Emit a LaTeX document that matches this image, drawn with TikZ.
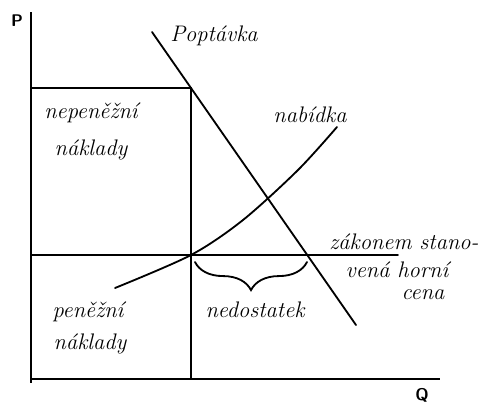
\documentclass[tikz,border=0pt]{standalone}
\usepackage{fontspec}
\usepackage{tikz}
\usetikzlibrary{decorations.pathreplacing}

\begin{document}
\begin{tikzpicture}[x=0.025cm, y=-0.025cm,
    lbl/.style={font=\fontsize{16}{19}\selectfont\itshape, inner sep=0pt},
    axlbl/.style={font=\sffamily\bfseries\large, inner sep=0pt},
    ax/.style={line width=1pt},
    crv/.style={line width=1.3pt, line cap=round}
  ]
    \useasboundingbox (0,0) rectangle (488,404);

    \coordinate (ptop) at (31,12);
    \coordinate (pbot) at (31,383);
    \coordinate (orig) at (31,379);
    \coordinate (qend) at (440,379);
    \coordinate (rtl) at (31,88);
    \coordinate (rtr) at (191,88);
    \coordinate (rbr) at (191,379);
    \coordinate (cl) at (31,255);
    \coordinate (cr) at (398,255);
    \coordinate (dtop) at (152,32);
    \coordinate (dbot) at (356,325);
    \coordinate (bl) at (195,262);
    \coordinate (br) at (307,262);

    \draw[ax] (ptop) -- (pbot);
    \draw[ax] (orig) -- (qend);
    \draw[ax] (rtl) -- (rtr) -- (rbr);
    \draw[crv] (cl) -- (cr);
    \draw[crv] (dtop) -- (dbot);
    \draw[crv] plot[smooth] coordinates {(115,288) (191,255) (243,220) (298,170) (337,127)};
    \draw[crv, decorate, decoration={brace, mirror, amplitude=20pt}] (bl) -- (br);

    \node[axlbl] (P) at (17,21) {P};
    \node[axlbl] (Q) at (422,395) {Q};
    \node[lbl] (poptavka) at (214,36) {Poptávka};
    \node[lbl] (nabidka) at (310,115) {nabídka};
    \node[lbl] (nepen) at (91,113) {nepeněžní};
    \node[lbl] (nakl1) at (91,150) {náklady};
    \node[lbl] (pen) at (88,312) {peněžní};
    \node[lbl] (nakl2) at (90,344) {náklady};
    \node[lbl] (nedost) at (255,310) {nedostatek};
    \node[lbl] (zak1) at (404,242) {zákonem stano-};
    \node[lbl] (zak2) at (397,270) {vená horní};
    \node[lbl] (zak3) at (423,295) {cena};
  \end{tikzpicture}
\end{document}
